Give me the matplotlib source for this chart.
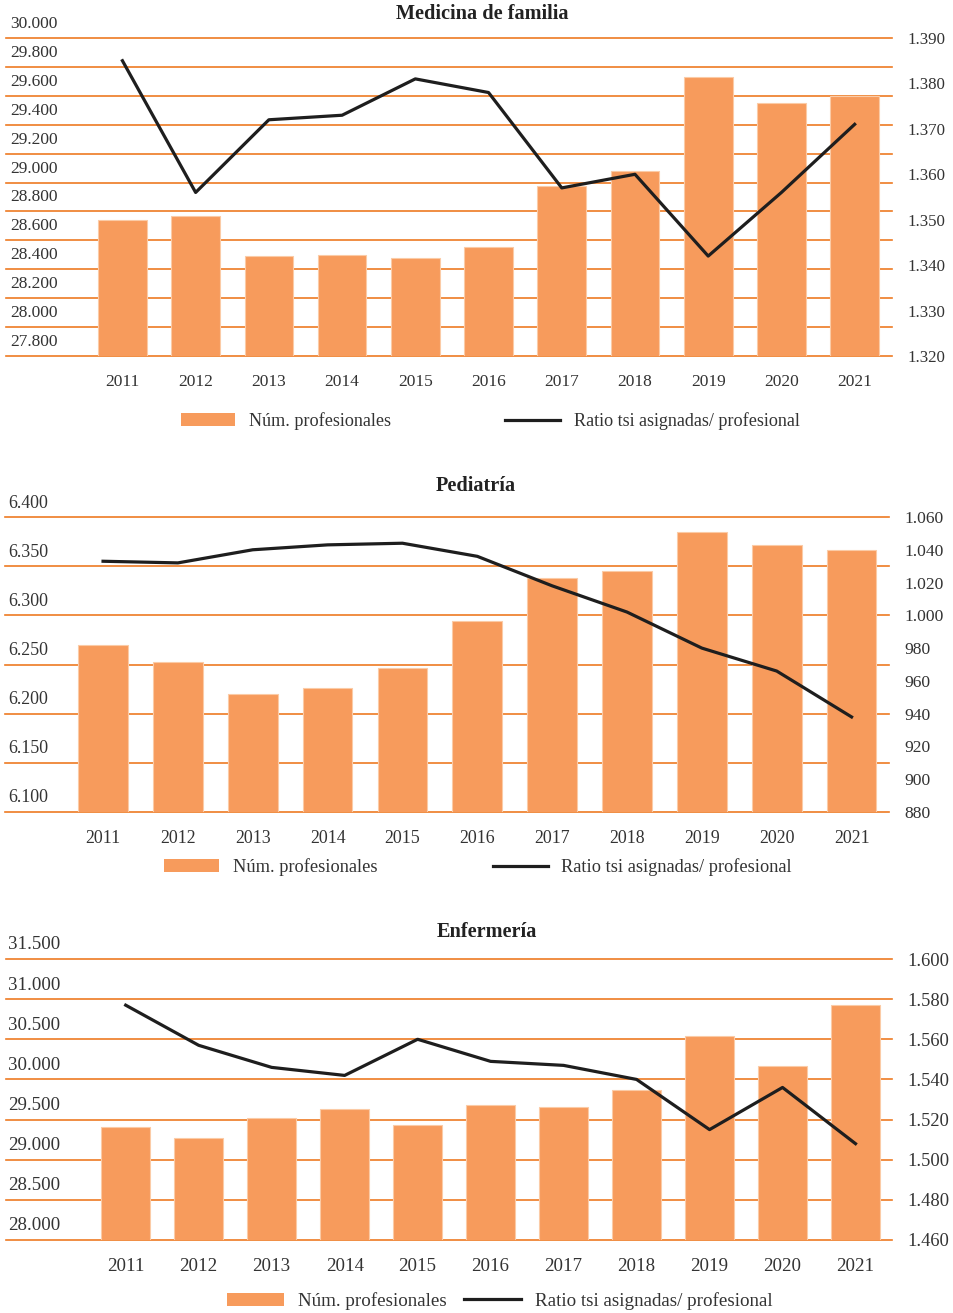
import matplotlib.pyplot as plt
from matplotlib.patches import Patch
from matplotlib.lines import Line2D

plt.rcParams['font.family'] = ['Liberation Serif', 'DejaVu Serif']

# Datos
years = ['2011', '2012', '2013', '2014', '2015', '2016', '2017', '2018', '2019', '2020', '2021']

mf_prof = [28740, 28768, 28494, 28497, 28476, 28556, 28976, 29082, 29732, 29548, 29596]
mf_ratio = [1385, 1356, 1372, 1373, 1381, 1378, 1357, 1360, 1342, 1356, 1371]

ped_prof = [6270, 6253, 6220, 6226, 6246, 6294, 6338, 6345, 6385, 6372, 6366]
ped_ratio = [1033, 1032, 1040, 1043, 1044, 1036, 1018, 1002, 980, 966, 938]

enf_prof = [29405, 29268, 29521, 29637, 29438, 29683, 29658, 29874, 30535, 30166, 30927]
enf_ratio = [1577, 1557, 1546, 1542, 1560, 1549, 1547, 1540, 1515, 1536, 1508]

mf_left = list(range(27800, 30001, 200))
mf_right = list(range(1320, 1391, 10))
ped_left = list(range(6100, 6401, 50))
ped_right = list(range(880, 1061, 20))
enf_left = list(range(28000, 31501, 500))
enf_right = list(range(1460, 1601, 20))

leg_labels = ['Núm. profesionales', 'Ratio tsi asignadas/ profesional']

BAR = '#F79B5C'
EDGE = '#FBCBA6'
GRID = '#EE7A22'
LINE = '#1E1E1E'
TXT = '#333333'

W, H = 954, 1313
fig = plt.figure(figsize=(W / 100, H / 100), dpi=100)


def miles(v):
    return f"{v:,.0f}".replace(",", ".")


def panel(box, prof, ratio, lticks, rticks, xlim, title, title_xy, edge, leg_xy, colspace, fs, legfs):
    left, top, right, bottom = box
    ax = fig.add_axes([left / W, 1 - bottom / H, (right - left) / W, (bottom - top) / H])
    x = list(range(len(years)))
    ax.bar(x, prof, width=0.665, color=BAR, edgecolor=EDGE, linewidth=0.8, zorder=2)
    ax.set_xlim(*xlim)
    ax.set_ylim(lticks[0], lticks[-1])
    ax.set_yticks(lticks)
    ax.set_yticklabels([])
    ax.tick_params(axis='y', length=0)
    ax.grid(axis='y', color=GRID, lw=1.2)
    for gl in ax.get_ygridlines():
        gl.set_clip_on(False)
    ax.set_axisbelow(True)
    ax.set_xticks(x)
    ax.set_xticklabels(years)
    ax.tick_params(axis='x', length=0, pad=13, labelsize=fs, labelcolor=TXT)
    for s in ax.spines.values():
        s.set_visible(False)
    # etiquetas del eje izquierdo, dentro del area y desplazadas hacia arriba
    for v in lticks:
        ax.annotate(miles(v), xy=(0, v), xycoords=('axes fraction', 'data'),
                    xytext=(edge, 14), textcoords='offset pixels',
                    ha='right', va='center', fontsize=fs, color=TXT)

    ax2 = ax.twinx()
    ax2.plot(x, ratio, color=LINE, lw=2.3, zorder=3)
    ax2.set_ylim(rticks[0], rticks[-1])
    ax2.set_yticks(rticks)
    ax2.set_yticklabels([miles(v) for v in rticks])
    ax2.tick_params(axis='y', length=0, pad=11, labelsize=fs - 0.3, labelcolor=TXT)
    for s in ax2.spines.values():
        s.set_visible(False)

    fig.text(title_xy[0] / W, 1 - title_xy[1] / H, title, ha='center', va='center',
             fontsize=14.6, fontweight='bold', color='#222222')

    handles = [Patch(facecolor=BAR, edgecolor='none'), Line2D([], [], color=LINE, lw=2.3)]
    fig.legend(handles, leg_labels, loc='center',
               bbox_to_anchor=(leg_xy[0] / W, 1 - leg_xy[1] / H),
               ncol=2, frameon=False, fontsize=legfs, handlelength=3.0,
               handletextpad=0.75, columnspacing=colspace, labelcolor=TXT)


panel((6, 38, 892, 356), mf_prof, mf_ratio, mf_left, mf_right, (-1.59, 10.51),
      'Medicina de familia', (482, 14), 52, (490, 421), 6.3, 12.5, 13.1)
panel((5, 517, 889, 812), ped_prof, ped_ratio, ped_left, ped_right, (-1.31, 10.5),
      'Pediatría', (476, 486), 43, (478, 867), 6.3, 12.9, 13.2)
panel((6, 959, 892, 1240), enf_prof, enf_ratio, enf_left, enf_right, (-1.64, 10.5),
      'Enfermería', (487, 932), 54, (500, 1301), 0.9, 13.6, 13.7)

plt.savefig('out.png', dpi=100)
